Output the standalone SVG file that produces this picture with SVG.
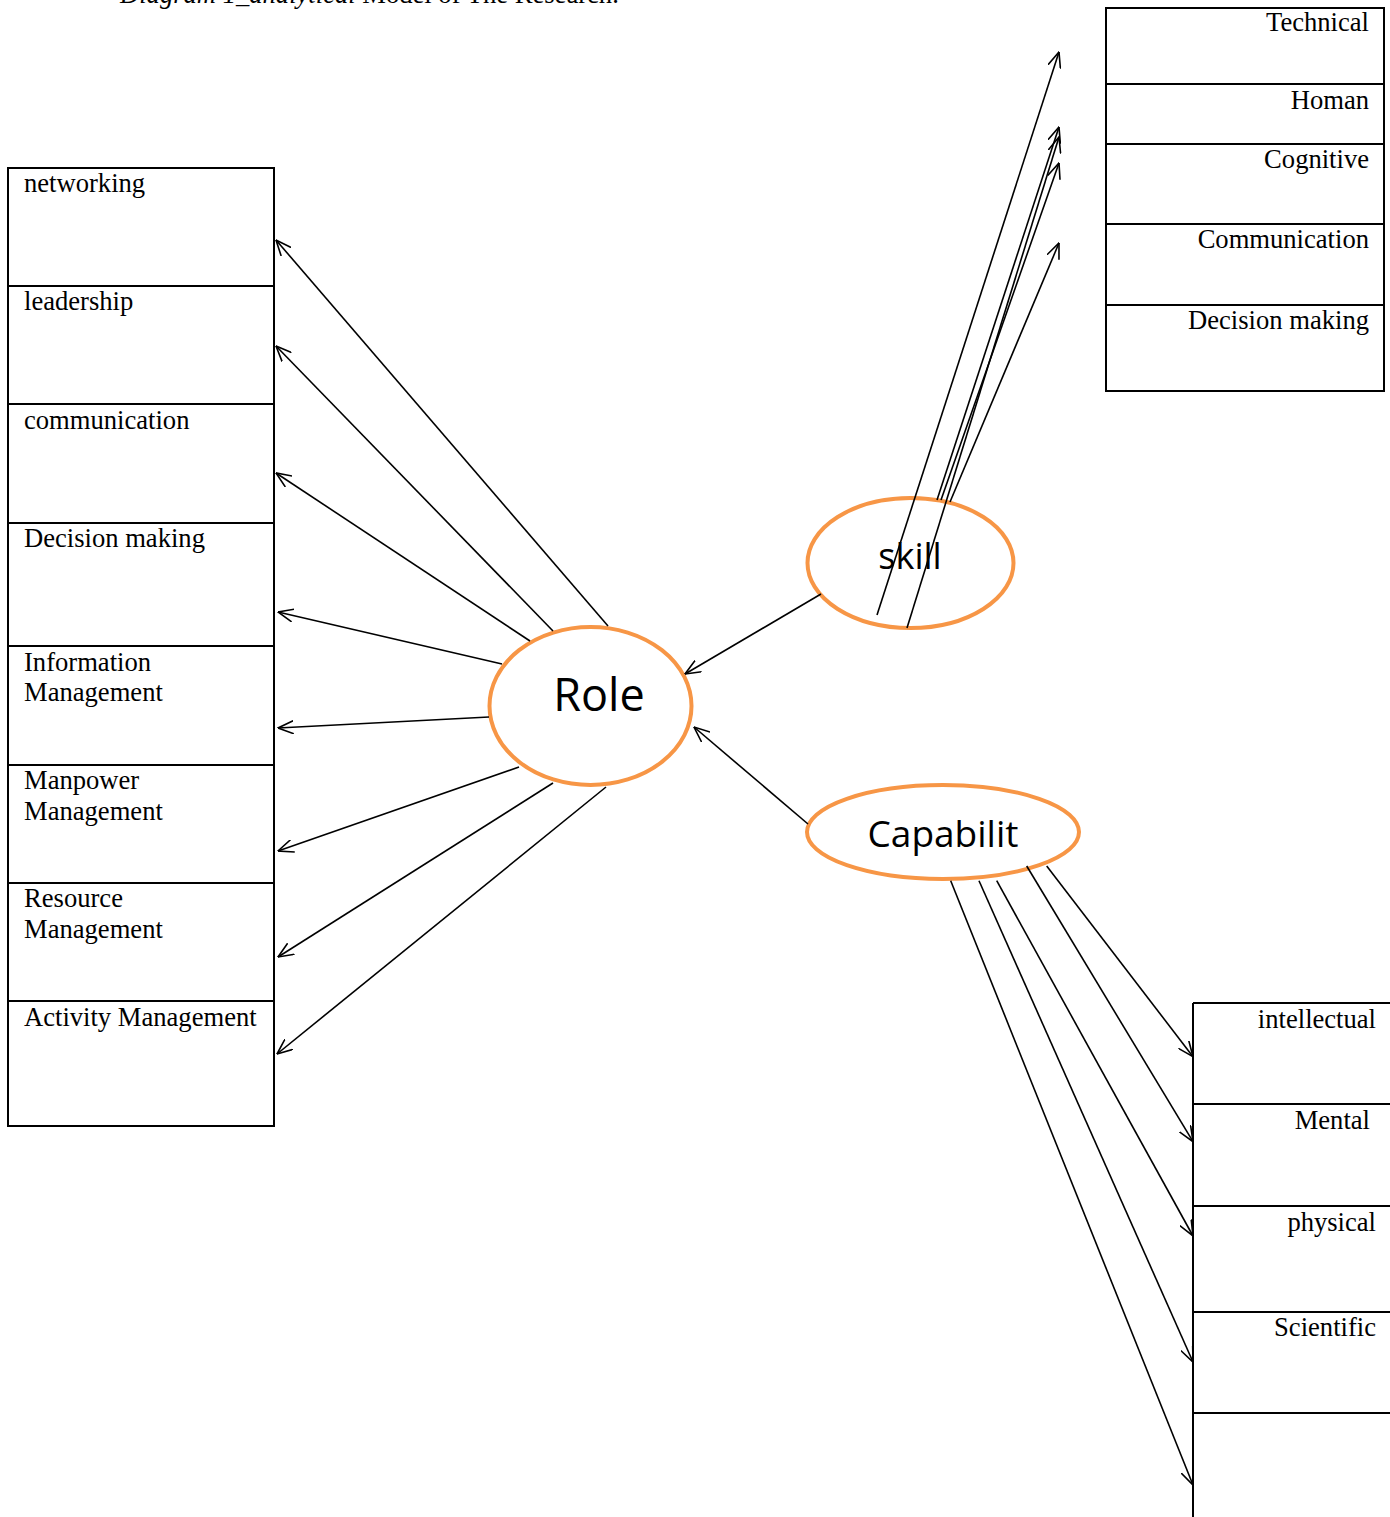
<svg xmlns="http://www.w3.org/2000/svg" width="1390" height="1517" viewBox="0 0 1390 1517">
<style>
.box{fill:none;stroke:#000;stroke-width:2}
.lbl{font-family:"Liberation Serif","Times New Roman",serif;font-size:26.6px;fill:#000}
.r{text-anchor:end}
.ell{fill:#fff;stroke:#F79646;stroke-width:4}
.big{font-family:"Open Sans","Noto Sans",sans-serif;fill:#000;text-anchor:middle}
.con line{stroke:#000;stroke-width:1.6;marker-end:url(#arr)}
</style>
<defs>
<marker id="arr" viewBox="0 0 16 14" refX="15.5" refY="7" markerWidth="16" markerHeight="14" markerUnits="userSpaceOnUse" orient="auto">
<path d="M0,0.5 L15.5,7 L0,13.5" fill="none" stroke="#000" stroke-width="1.6"/>
</marker>
</defs>
<rect width="1390" height="1517" fill="#fff"/>
<text class="lbl" x="120" y="3"><tspan font-style="italic">Diagram 1_analytical</tspan> Model of The Research.</text>

<g id="roles">
<rect class="box" x="8" y="168" width="266" height="958"/>
<line class="box" x1="8" y1="286" x2="274" y2="286"/>
<line class="box" x1="8" y1="404" x2="274" y2="404"/>
<line class="box" x1="8" y1="523" x2="274" y2="523"/>
<line class="box" x1="8" y1="646" x2="274" y2="646"/>
<line class="box" x1="8" y1="765" x2="274" y2="765"/>
<line class="box" x1="8" y1="883" x2="274" y2="883"/>
<line class="box" x1="8" y1="1001" x2="274" y2="1001"/>
<text class="lbl" x="24" y="192">networking</text>
<text class="lbl" x="24" y="310">leadership</text>
<text class="lbl" x="24" y="429">communication</text>
<text class="lbl" x="24" y="547">Decision making</text>
<text class="lbl" x="24" y="671">Information</text>
<text class="lbl" x="24" y="701">Management</text>
<text class="lbl" x="24" y="789">Manpower</text>
<text class="lbl" x="24" y="820">Management</text>
<text class="lbl" x="24" y="907">Resource</text>
<text class="lbl" x="24" y="938">Management</text>
<text class="lbl" x="24" y="1026">Activity Management</text>
</g>

<g id="skills">
<rect class="box" x="1106" y="8" width="278" height="383"/>
<line class="box" x1="1106" y1="84" x2="1384" y2="84"/>
<line class="box" x1="1106" y1="144" x2="1384" y2="144"/>
<line class="box" x1="1106" y1="224" x2="1384" y2="224"/>
<line class="box" x1="1106" y1="305" x2="1384" y2="305"/>
<text class="lbl r" x="1369" y="31">Technical</text>
<text class="lbl r" x="1369" y="109">Homan</text>
<text class="lbl r" x="1369" y="168">Cognitive</text>
<text class="lbl r" x="1369" y="248">Communication</text>
<text class="lbl r" x="1369" y="329">Decision making</text>
</g>

<g id="capabilities">
<line class="box" x1="1193" y1="1003" x2="1193" y2="1517"/>
<line class="box" x1="1193" y1="1003" x2="1390" y2="1003"/>
<line class="box" x1="1193" y1="1104" x2="1390" y2="1104"/>
<line class="box" x1="1193" y1="1206" x2="1390" y2="1206"/>
<line class="box" x1="1193" y1="1312" x2="1390" y2="1312"/>
<line class="box" x1="1193" y1="1413" x2="1390" y2="1413"/>
<text class="lbl r" x="1376" y="1028">intellectual</text>
<text class="lbl r" x="1370" y="1129">Mental</text>
<text class="lbl r" x="1376" y="1231">physical</text>
<text class="lbl r" x="1376" y="1336">Scientific</text>
</g>

<g id="role">
<ellipse class="ell" cx="590.5" cy="706" rx="101" ry="79"/>
<text class="big" x="599" y="711" font-size="45">Role</text>
</g>
<g id="skill">
<ellipse class="ell" cx="910.5" cy="563" rx="103" ry="65"/>
<text class="big" x="910" y="569" font-size="36">skill</text>
</g>
<g id="capabilit">
<ellipse class="ell" cx="943" cy="832" rx="136" ry="47"/>
<text class="big" x="943" y="847" font-size="37">Capabilit</text>
</g>

<g id="connectors" class="con">
<line x1="608" y1="626" x2="276" y2="240"/>
<line x1="553" y1="631" x2="276" y2="346"/>
<line x1="530" y1="641" x2="276" y2="473"/>
<line x1="502" y1="664" x2="278" y2="612"/>
<line x1="489" y1="717" x2="278" y2="728"/>
<line x1="519" y1="767" x2="278" y2="851"/>
<line x1="553" y1="783" x2="278" y2="957"/>
<line x1="606" y1="787" x2="277" y2="1054"/>
<line x1="821" y1="594" x2="685" y2="674"/>
<line x1="808" y1="824" x2="694" y2="727"/>
<line x1="877" y1="615" x2="1059" y2="52"/>
<line x1="937" y1="500" x2="1059" y2="127"/>
<line x1="907" y1="628" x2="1059" y2="137"/>
<line x1="941" y1="500" x2="1059" y2="163"/>
<line x1="950" y1="502" x2="1059" y2="243"/>
<line x1="1046.7" y1="866" x2="1193" y2="1056.7"/>
<line x1="1026.7" y1="866" x2="1193" y2="1141.7"/>
<line x1="996.7" y1="880.7" x2="1193" y2="1236"/>
<line x1="979" y1="880.7" x2="1193" y2="1362"/>
<line x1="950.7" y1="880.7" x2="1193" y2="1485"/>
</g>
</svg>
